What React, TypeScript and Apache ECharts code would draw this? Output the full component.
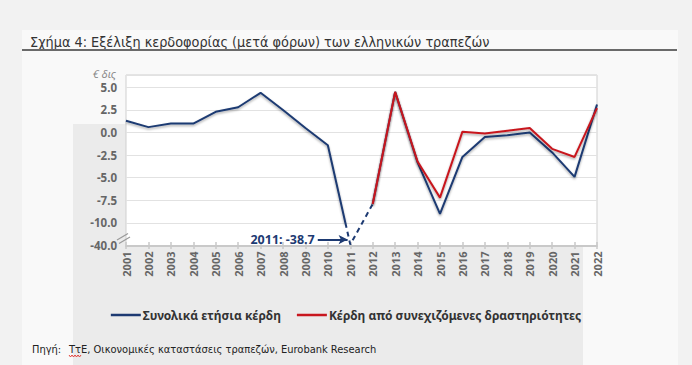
import React, { useEffect, useRef } from "react";
import * as echarts from "echarts";

const years = [2001, 2002, 2003, 2004, 2005, 2006, 2007, 2008, 2009, 2010, 2011, 2012, 2013, 2014, 2015, 2016, 2017, 2018, 2019, 2020, 2021, 2022];
const totalProfits = [1.3, 0.6, 1.0, 1.0, 2.3, 2.8, 4.4, 2.5, 0.5, -1.4, -38.7, -7.9, 4.5, -3.3, -9.0, -2.7, -0.5, -0.3, 0.0, -2.2, -4.9, 3.1];
const continuingProfits = [null, null, null, null, null, null, null, null, null, null, null, -7.9, 4.5, -3.2, -7.2, 0.1, -0.1, 0.2, 0.5, -1.8, -2.7, 2.7];
const yTickValues = [-12.5, -10, -7.5, -5, -2.5, 0, 2.5, 5];
const seriesNames = ["Συνολικά ετήσια κέρδη", "Κέρδη από συνεχιζόμενες δραστηριότητες"];
const titleText = "Σχήμα 4: Εξέλιξη κερδοφορίας (μετά φόρων) των ελληνικών τραπεζών";

const BREAK = -10; // values below this are compressed
const BREAK_LOW = -40; // displayed at -12.5
const BLUE = "#1d3a72";
const RED = "#c8171f";

// broken-axis transform
const tf = (v: number) => (v >= BREAK ? v : BREAK + ((v - BREAK) * 2.5) / (BREAK - BREAK_LOW));
const untf = (v: number) => (v >= BREAK ? v : BREAK + ((v - BREAK) * (BREAK - BREAK_LOW)) / 2.5);

export default function App() {
  const ref = useRef<HTMLDivElement>(null);
  useEffect(() => {
    if (!ref.current) return;
    const chart = echarts.init(ref.current, null, { renderer: "svg" });

    const iCrash = totalProfits.findIndex((v) => v < BREAK);
    const prevY = tf(totalProfits[iCrash - 1]);
    const crashY = tf(totalProfits[iCrash]);
    // where the line from the previous year crosses the break
    const t = (prevY - BREAK) / (prevY - crashY);
    const breakX = years[iCrash - 1] + t;

    const solidA = years.slice(0, iCrash).map((y, i) => [y, tf(totalProfits[i])]);
    solidA.push([breakX, BREAK]);
    const dashed = [[breakX, BREAK], [years[iCrash], crashY], [years[iCrash + 1], tf(totalProfits[iCrash + 1])]];
    const solidB = years.slice(iCrash + 1).map((y, k) => [y, tf(totalProfits[iCrash + 1 + k])]);
    const redData = years
      .map((y, i) => (continuingProfits[i] === null ? null : [y, tf(continuingProfits[i] as number)]))
      .filter((d) => d !== null);

    const yMax = 6.37;
    const arrowY = crashY + 0.55;
    const font = "'Noto Sans', sans-serif";
    const narrow = "'Liberation Sans Narrow', 'DejaVu Sans Condensed', sans-serif";

    const xBase = {
      type: "value",
      min: years[0],
      max: years[years.length - 1],
      interval: 1,
      splitLine: { show: false },
    };

    const shadow = { shadowColor: "rgba(0,0,0,0.35)", shadowBlur: 2, shadowOffsetY: 1.5 };

    chart.setOption({
      animation: false,
      backgroundColor: "#f2f2f2",
      grid: {
        left: 126,
        right: 95,
        top: 75,
        bottom: 119.5,
        show: true,
        backgroundColor: "#ffffff",
        borderColor: "#cfcfcf",
        borderWidth: 1,
      },
      graphic: [
        { type: "rect", z: -10, shape: { x: 22, y: 30, width: 656, height: 340 }, style: { fill: "#f9f9f9" } },
        { type: "rect", z: -9, shape: { x: 73, y: 124, width: 510, height: 250 }, style: { fill: "#ebebeb" } },
        { type: "text", x: 30, y: 42, style: { text: titleText, font: `14.3px ${narrow}`, fill: "#333", textVerticalAlign: "middle" } },
        { type: "line", shape: { x1: 22, y1: 50, x2: 677, y2: 50 }, style: { stroke: "#6a6a6a", lineWidth: 2 } },
        { type: "text", x: 116, y: 73, style: { text: "€ δις", font: `italic 11px ${font}`, fill: "#8a8a8a", textAlign: "right", textVerticalAlign: "middle" } },
        { type: "line", z: 10, shape: { x1: 117, y1: 240, x2: 128, y2: 233.5 }, style: { stroke: "#9a9a9a", lineWidth: 1.2 } },
        { type: "line", z: 10, shape: { x1: 119, y1: 243.5, x2: 130, y2: 237 }, style: { stroke: "#9a9a9a", lineWidth: 1.2 } },
        { type: "text", x: 32, y: 349, style: { text: "Πηγή:", font: `11px ${narrow}`, fill: "#222", textVerticalAlign: "middle" } },
        { type: "text", x: 69, y: 349, style: { text: "ΤτΕ, Οικονομικές καταστάσεις τραπεζών, Eurobank Research", font: `11px ${narrow}`, fill: "#222", textVerticalAlign: "middle" } },
        {
          type: "polyline",
          shape: { points: [[69, 355], [70.5, 357], [72, 355], [73.5, 357], [75, 355], [76.5, 357], [78, 355], [79.5, 357], [81, 355]] },
          style: { stroke: "#e0302a", lineWidth: 0.9, fill: null },
        },
      ],
      legend: {
        data: [
          { name: seriesNames[0], itemStyle: { color: BLUE } },
          { name: seriesNames[1], itemStyle: { color: RED } },
        ],
        icon: "rect",
        itemWidth: 30,
        itemHeight: 2.5,
        itemGap: 16,
        left: "center",
        top: 304,
        textStyle: { fontFamily: font, fontWeight: "bold", fontSize: 12, color: "#333", padding: [0, 0, 0, -3] },
      },
      xAxis: [
        {
          ...xBase,
          position: "bottom",
          axisLine: { show: false },
          axisTick: { show: false },
          axisLabel: {
            rotate: 90,
            margin: 6,
            formatter: (v: number) => String(v),
            color: "#666",
            fontWeight: "bold",
            fontSize: 11,
            fontFamily: font,
          },
        },
        {
          ...xBase,
          position: "bottom",
          axisLine: { show: true, onZero: true, lineStyle: { color: "#c9c9c9", width: 2 } },
          axisTick: { show: true, length: 3.5, lineStyle: { color: "#c9c9c9", width: 1.5 } },
          axisLabel: { show: false },
        },
        {
          ...xBase,
          position: "bottom",
          axisLine: { show: false, onZero: true },
          axisTick: { show: true, inside: true, length: 3.5, lineStyle: { color: "#c9c9c9", width: 1.5 } },
          axisLabel: { show: false },
        },
      ],
      yAxis: {
        type: "value",
        min: yTickValues[0],
        max: yMax,
        interval: 2.5,
        axisLine: { show: false },
        axisTick: { show: false },
        splitLine: { lineStyle: { color: "#e2e2e2", width: 1.2 } },
        axisLabel: {
          margin: 9,
          color: "#666",
          fontWeight: "bold",
          fontSize: 11.5,
          fontFamily: font,
          formatter: (v: number) => (yTickValues.some((t2) => Math.abs(t2 - v) < 1e-6) ? untf(v).toFixed(1) : ""),
        },
      },
      series: [
        {
          name: seriesNames[0],
          type: "line",
          data: solidA,
          showSymbol: false,
          color: BLUE,
          z: 3,
          lineStyle: { color: BLUE, width: 2, ...shadow },
        },
        {
          name: "dashed",
          type: "line",
          data: dashed,
          showSymbol: false,
          color: BLUE,
          z: 3,
          lineStyle: { color: BLUE, width: 2, type: [5, 4] },
          markLine: {
            silent: true,
            symbol: ["none", "arrow"],
            symbolSize: [7, 9],
            lineStyle: { color: BLUE, width: 2, type: "solid" },
            label: {
              show: true,
              position: "start",
              distance: 3,
              formatter: `${years[iCrash]}: ${totalProfits[iCrash].toFixed(1)}`,
              color: BLUE,
              fontWeight: "bold",
              fontSize: 12.5,
              fontFamily: font,
            },
            data: [[{ coord: [years[iCrash] - 1.45, arrowY] }, { coord: [years[iCrash] - 0.12, arrowY] }]],
          },
        },
        {
          name: seriesNames[0],
          type: "line",
          data: solidB,
          showSymbol: false,
          color: BLUE,
          z: 3,
          lineStyle: { color: BLUE, width: 2, ...shadow },
        },
        {
          name: seriesNames[1],
          type: "line",
          data: redData,
          showSymbol: false,
          color: RED,
          z: 4,
          lineStyle: { color: RED, width: 2, ...shadow },
        },
      ],
    });
    return () => chart.dispose();
  }, []);
  return <div ref={ref} style={{ width: 692, height: 365, position: "fixed", left: 0, top: 0 }} />;
}
